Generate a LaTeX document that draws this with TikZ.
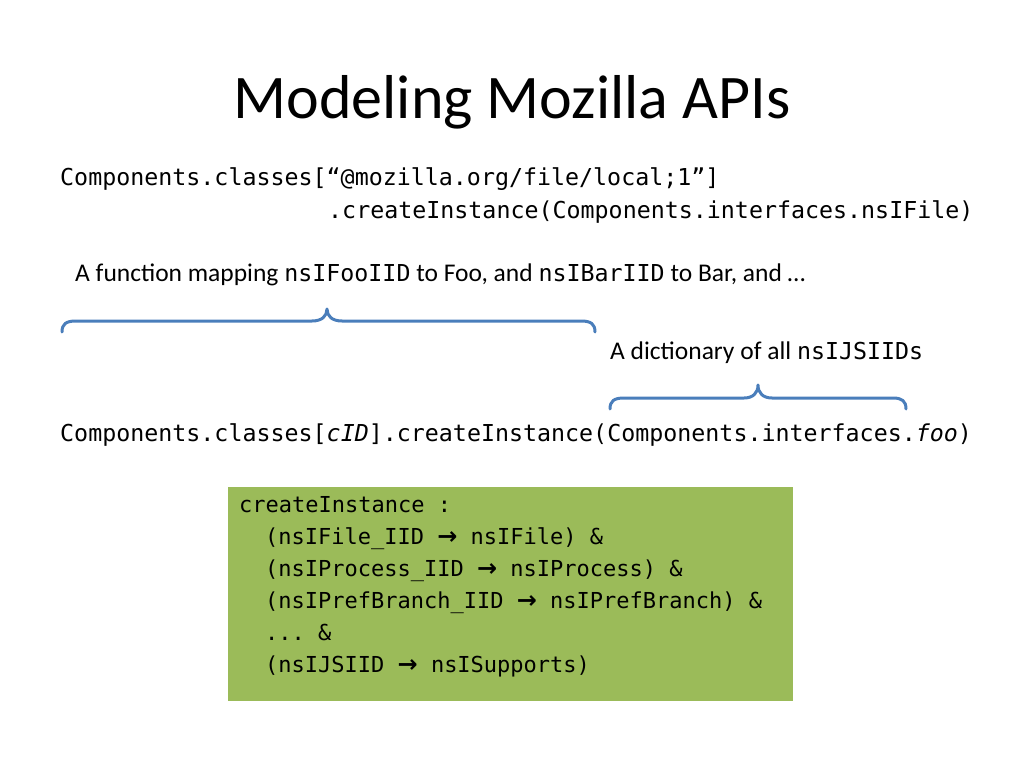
\documentclass[tikz,border=0pt]{standalone}
\usepackage{fontspec}
\setmainfont{Carlito}
\setmonofont{DejaVu Sans Mono}
\newfontfamily\arrowfont{DejaVu Sans}
\definecolor{braceblue}{HTML}{4A7EBB}
\definecolor{boxgreen}{HTML}{9BBB59}
\newcommand{\code}[1]{{\fontsize{23.3bp}{30bp}\selectfont\ttfamily #1}}
\newcommand{\maps}{{\arrowfont\bfseries\fontsize{24bp}{32bp}\selectfont →}}

\begin{document}
\begin{tikzpicture}[x=1bp, y=-1bp,
  titletext/.style={anchor=base, inner sep=0pt, font=\fontsize{62bp}{70bp}\selectfont},
  codetext/.style={anchor=base west, inner sep=0pt, font=\fontsize{23.3bp}{32bp}\selectfont\ttfamily},
  boxtext/.style={anchor=base west, inner sep=0pt, font=\fontsize{22bp}{32bp}\selectfont\ttfamily},
  prosetext/.style={anchor=base west, inner sep=0pt, font=\fontsize{25.5bp}{30bp}\selectfont},
  bracepath/.style={draw=braceblue, line width=3bp, line cap=round, line join=round}]
\useasboundingbox (0,0) rectangle (1024,768);

\node[titletext] (title) at (512,118) {Modeling Mozilla APIs};

\node[codetext] (code1) at (60,185) {Components.classes[“@mozilla.org/file/local;1”]};
\node[codetext] (code2) at (328,218) {.createInstance(Components.interfaces.nsIFile)};

\node[prosetext] (fnote) at (75,281) {A function mapping \code{nsIFooIID} to Foo, and \code{nsIBarIID} to Bar, and …};

% left brace over cID
\draw[bracepath] (62,332) .. controls (62,324) and (66,321) .. (76,321)
  -- (312,321) .. controls (322,321) and (327,316) .. (327,309)
  .. controls (327,316) and (332,321) .. (342,321)
  -- (581,321) .. controls (591,321) and (595,324) .. (595,332);

\node[prosetext] (dnote) at (610,359) {A dictionary of all \code{nsIJSIIDs}};

% right brace over foo
\draw[bracepath] (610,409) .. controls (610,401) and (614,398) .. (624,398)
  -- (744,398) .. controls (753,398) and (758,393) .. (758,385)
  .. controls (758,393) and (763,398) .. (772,398)
  -- (893,398) .. controls (902,398) and (906,401) .. (906,409);

\node[codetext] (code3) at (60,441) {Components.classes[\textit{cID}].createInstance(Components.interfaces.\textit{foo})};

\node[fill=boxgreen, anchor=north west, inner sep=0pt, minimum width=565bp, minimum height=214bp] (typebox) at (228,487) {};
\node[boxtext] (t1) at (239,512) {createInstance :};
\node[boxtext] (t2) at (265,544) {(nsIFile\_IID \maps{} nsIFile) \&};
\node[boxtext] (t3) at (265,576) {(nsIProcess\_IID \maps{} nsIProcess) \&};
\node[boxtext] (t4) at (265,608) {(nsIPrefBranch\_IID \maps{} nsIPrefBranch) \&};
\node[boxtext] (t5) at (265,640) {... \&};
\node[boxtext] (t6) at (265,672) {(nsIJSIID \maps{} nsISupports)};
\end{tikzpicture}
\end{document}
